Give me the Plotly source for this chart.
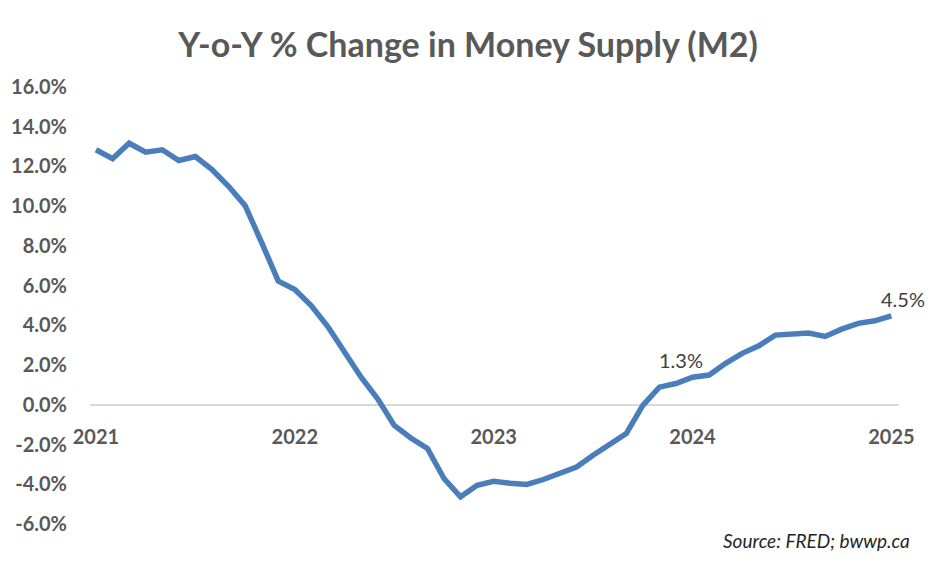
import plotly.graph_objects as go

# ---- data ----
months = [f"{y}-{m:02d}" for y in range(2021, 2025) for m in range(1, 13)] + ["2025-01"]
m2_yoy = [12.84, 12.39, 13.17, 12.72, 12.84, 12.30, 12.50, 11.84, 11.00, 10.03, 8.17, 6.23,
          5.80, 4.98, 3.93, 2.64, 1.39, 0.30, -1.04, -1.67, -2.20, -3.71, -4.63, -4.05,
          -3.85, -3.95, -4.01, -3.76, -3.46, -3.13, -2.54, -1.99, -1.45, -0.03, 0.89, 1.07,
          1.39, 1.50, 2.09, 2.59, 2.97, 3.51, 3.56, 3.61, 3.44, 3.81, 4.10, 4.23,
          4.48]
year_ticks = ["2021-01", "2022-01", "2023-01", "2024-01", "2025-01"]
year_labels = ["2021", "2022", "2023", "2024", "2025"]
y_ticks = [-6, -4, -2, 0, 2, 4, 6, 8, 10, 12, 14, 16]
y_tick_labels = [f"{v:.1f}%" for v in y_ticks]
label_points = [("2023-12", 1.3, "1.3%"), ("2025-01", 4.5, "4.5%")]

FONT = "Lato"
GRAY = "#595959"

fig = go.Figure()
fig.add_trace(go.Scatter(
    x=months, y=m2_yoy, mode="lines",
    line=dict(color="#4A7EBB", width=5.5),
    hoverinfo="skip", showlegend=False,
))

annotations = []
shifts = {"2023-12": (5, 24), "2025-01": (12, 17)}
for xk, val, txt in label_points:
    idx = months.index(xk)
    xs, ys = shifts[xk]
    annotations.append(dict(
        x=xk, y=m2_yoy[idx], xref="x", yref="y", text=txt, showarrow=False,
        xshift=xs, yshift=ys, font=dict(family=FONT, size=20, color="#404040"),
    ))
annotations.append(dict(
    x=1.016, y=-0.037, xref="paper", yref="paper", xanchor="right", yanchor="middle",
    text="<i>Source: FRED; bwwp.ca</i>", showarrow=False,
    font=dict(family=FONT, size=19, color="#262626"),
))

W, H = 928, 554
n = len(months)
fig.update_layout(
    width=W, height=H,
    margin=dict(l=82, r=37, t=79, b=38, autoexpand=False),
    paper_bgcolor="white", plot_bgcolor="white",
    title=dict(text="<b>Y-o-Y % Change in Money Supply (M2)</b>",
               x=0.5 - 4 / W, xanchor="center", xref="container",
               y=1 - 37 / H, yanchor="middle", yref="container",
               font=dict(family=FONT, size=34, color=GRAY)),
    xaxis=dict(type="category", range=[-0.36, n - 1 + 0.46],
               tickvals=year_ticks, ticktext=year_labels,
               showgrid=False, zeroline=False, showline=False, ticks="",
               anchor="free", position=6 / 22, ticklabelstandoff=18, automargin=False,
               tickfont=dict(family=FONT, size=20, color=GRAY, weight="bold")),
    yaxis=dict(range=[-6, 16], tickvals=y_ticks, ticktext=y_tick_labels,
               showgrid=False, zeroline=True, zerolinecolor="#D9D9D9", zerolinewidth=1.5,
               showline=False, ticks="", ticklabelstandoff=22, automargin=False,
               tickfont=dict(family=FONT, size=20, color=GRAY, weight="bold")),
    annotations=annotations,
)

fig.write_html("out.html")
